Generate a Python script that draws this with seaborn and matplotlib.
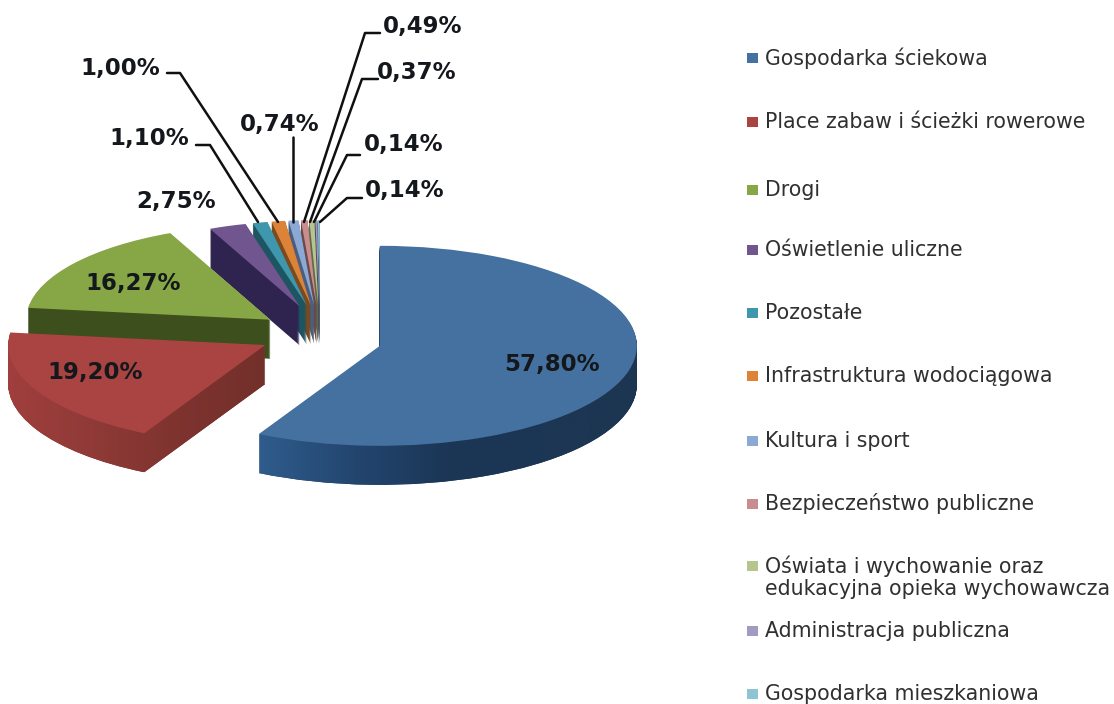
import matplotlib
matplotlib.use("Agg")
import matplotlib.pyplot as plt
import numpy as np
import seaborn as sns
from matplotlib.colors import LinearSegmentedColormap
from matplotlib.lines import Line2D
from matplotlib.patches import Rectangle
from matplotlib.path import Path

categories = [
    "Gospodarka ściekowa",
    "Place zabaw i ścieżki rowerowe",
    "Drogi",
    "Oświetlenie uliczne",
    "Pozostałe",
    "Infrastruktura wodociągowa",
    "Kultura i sport",
    "Bezpieczeństwo publiczne",
    "Oświata i wychowanie oraz\nedukacyjna opieka wychowawcza",
    "Administracja publiczna",
    "Gospodarka mieszkaniowa",
]
values = [57.80, 19.20, 16.27, 2.75, 1.10, 1.00, 0.74, 0.49, 0.37, 0.14, 0.14]
value_labels = ["57,80%", "19,20%", "16,27%", "2,75%", "1,10%", "1,00%",
                "0,74%", "0,49%", "0,37%", "0,14%", "0,14%"]

top_colors = ["#44719f", "#a94442", "#87a747", "#71558f", "#3f97ae", "#dc8338",
              "#8ca8d4", "#c88d8c", "#b4c68e", "#a29ac0", "#8ec4d4"]
side_colors = ["#1f3c5e", "#853532", "#3c4f1c", "#2f2350", "#1d5563", "#7a4a20",
               "#4a5f80", "#6a4a4a", "#5f6a45", "#50486a", "#4a7080"]

W, H = 1114, 704
CX, CY, RX, RY = 320, 334, 257, 100
DEPTH = 39

sns.set_theme(style="white")
plt.rcParams["font.family"] = ["DejaVu Sans"]

fig = plt.figure(figsize=(W / 100, H / 100), dpi=100)
ax = fig.add_axes([0, 0, 1, 1])

# the back slices look smaller and sit higher, the front one lower (perspective)
top_radius = [1.0, 1.0, 0.95] + [0.85] * 8
y_shift = [-6, 0, 0] + [5] * 8
layers = {}

# stack of pies, deepest first, gives the extruded look
for layer in range(DEPTH, -1, -1):
    wedges, _ = ax.pie(
        values,
        explode=[0.24] * len(values),
        center=(0, -layer / RY),
        startangle=90,
        counterclock=False,
        colors=top_colors if layer == 0 else side_colors,
        wedgeprops={"linewidth": 0},
    )
    for i, w in enumerate(wedges):
        w.set_radius(top_radius[i])
        w.set_center((w.center[0], w.center[1] + y_shift[i] / RY))
        w.set_zorder((len(values) - i) * 100 + (DEPTH - layer))
        layers.setdefault(i, []).append(w)


def shade_side(idx, stops):
    # gradient on the side wall, clipped to the stacked wedges below the top face
    side = Path.make_compound_path(*[w.get_path() for w in layers[idx][:-1]])
    box = side.get_extents()
    cmap = LinearSegmentedColormap.from_list("side", stops)
    im = ax.imshow(np.linspace(0, 1, 256)[None, :], cmap=cmap, aspect="auto",
                   extent=[box.x0, box.x1, box.y0, box.y1],
                   zorder=(len(values) - idx) * 100 + DEPTH - 1)
    im.set_clip_path(side, transform=ax.transData)


shade_side(0, ["#2f5c8c", "#23466f", "#1b3656", "#1c3654", "#1c3652"])
shade_side(1, ["#a03f3d", "#8f3a37", "#7e332f", "#73302b"])

ax.set_aspect("auto")
ax.set_xlim(-CX / RX, (W - CX) / RX)
ax.set_ylim((CY - H) / RY, CY / RY)
ax.axis("off")

# data labels, pixel positions of the text centres
label_xy = [(552, 365), (95, 372), (133, 284), (176, 202), (149, 139), (120, 69),
            (280, 124), (423, 26), (417, 73), (404, 145), (405, 191)]
for text, (px, py) in zip(value_labels, label_xy):
    fig.text(px / W, 1 - py / H, text, ha="center", va="center",
             fontsize=16.5, fontweight="bold", color="#14181c")

# leader lines of the small slices
leaders = [
    ([196, 210, 258], [145, 145, 222]),
    ([167, 180, 278], [73, 73, 222]),
    ([293, 293], [137, 222]),
    ([380, 365, 304], [33, 33, 222]),
    ([378, 362, 310], [79, 79, 222]),
    ([360, 347, 314], [155, 155, 222]),
    ([362, 347, 320], [198, 198, 222]),
]
for xs, ys in leaders:
    fig.add_artist(Line2D(np.array(xs) / W, 1 - np.array(ys) / H, color="#101010",
                          lw=1.8, transform=fig.transFigure))

# legend
legend_y = [58, 122, 190, 250, 313, 376, 441, 504, 566, 631, 694]
for name, col, py in zip(categories, top_colors, legend_y):
    fig.add_artist(Rectangle((747 / W, 1 - (py + 5) / H), 11 / W, 10 / H,
                             color=col, lw=0, transform=fig.transFigure))
    lines = name.split("\n")
    for k, line in enumerate(lines):
        fig.text(765 / W, 1 - (py + k * 23) / H, line, ha="left", va="center",
                 fontsize=14.8, color="#303030")

fig.savefig("out.png", dpi=100)
